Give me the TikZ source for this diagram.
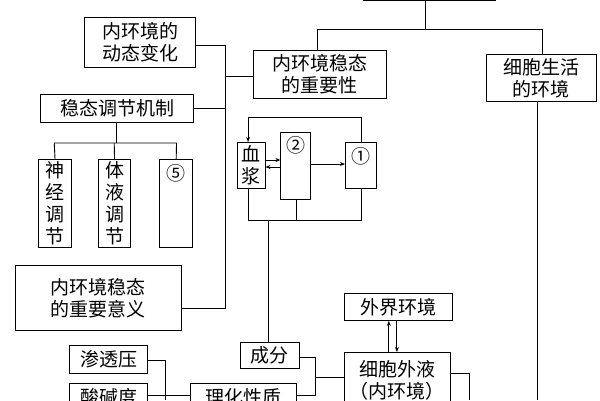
\documentclass[tikz,border=0pt]{standalone}
\usepackage{fontspec}
\setmainfont{Noto Sans CJK SC}
\usetikzlibrary{arrows.meta}
\tikzset{
  box/.style={draw, line width=0.9pt, inner sep=0pt, align=center,
    font=\fontsize{19}{22}\selectfont},
  wire/.style={line width=0.9pt},
  tip/.style={wire, -{Stealth[length=5pt,width=4pt]}}
}
\begin{document}
\begin{tikzpicture}[x=1.1538pt, y=-1pt]
        \useasboundingbox (0,0) rectangle (520,400);

        % top part
        \draw[wire] (369,0) -- (369,29);
        \draw[wire] (275,50) -- (275,29) -- (470,29) -- (470,54);
        \node[box, anchor=north west, minimum width=111pt, minimum height=50pt] (dyn) at (73,17) {内环境的\\动态变化};
        \node[box, anchor=north west, minimum width=133pt, minimum height=48pt] (imp) at (219,50) {内环境稳态\\的重要性};
        \node[box, anchor=north west, minimum width=110pt, minimum height=47pt] (env) at (421,54) {细胞生活\\的环境};
        \node[box, anchor=north west, minimum width=153pt, minimum height=28pt] (mech) at (35,94) {稳态调节机制};
        \node[box, anchor=north west, minimum width=166pt, minimum height=65pt] (mean) at (13,265) {内环境稳态\\的重要意义};

        % left bus
        \coordinate (bt) at (195,45);
        \coordinate (bb) at (195,308);
        \draw[wire] (dyn.east |- bt) -- (bt) -- (bb) -- (mean.east |- bb);
        \draw[wire] (195,76) -- (imp.west |- 0,76);
        \draw[wire] (mech.east |- 0,108) -- (195,108);

        % regulation
        \node[box, anchor=north west, minimum width=33pt, minimum height=88pt] (nerve) at (33,159) {神\\经\\调\\节};
        \node[box, anchor=north west, minimum width=32pt, minimum height=88pt] (fluid) at (85,159) {体\\液\\调\\节};
        \node[box, anchor=north west, minimum width=33pt, minimum height=88pt] (five) at (138,159) {};
        \node[font=\fontsize{19}{22}\selectfont] (fivelbl) at (five.north) [yshift=-14pt] {⑤};
        \draw[wire] (101,122) -- (101,143);
        \draw[wire] (nerve.north) -- (47,143) -- (153,143) -- (five.north);
        \draw[wire] (fluid.north) -- (99,143);

        % fluids
        \node[box, anchor=north west, minimum width=28pt, minimum height=46pt] (plasma) at (205,142) {血\\浆};
        \node[box, anchor=north west, minimum width=30pt, minimum height=67pt] (two) at (243,132) {};
        \node[font=\fontsize{19}{22}\selectfont] (twolbl) at (two.north) [yshift=-13pt] {②};
        \node[box, anchor=north west, minimum width=31pt, minimum height=46pt] (one) at (299,142) {};
        \node[font=\fontsize{19}{22}\selectfont] (onelbl) at (one.north) [yshift=-14pt] {①};
        \draw[tip] (313,142) -- (313,117) -- (215,117) -- (215,142);
        \draw[tip] (two.east |- 0,164) -- (one.west |- 0,164);
        \draw[tip] (plasma.east |- 0,160) -- (two.west |- 0,160);
        \draw[tip] (two.west |- 0,167) -- (plasma.east |- 0,167);
        \draw[wire] (215,188) -- (215,220) -- (313,220) -- (313,188);
        \draw[wire] (257,199) -- (257,220);

        % bottom part
        \node[box, anchor=north west, minimum width=59pt, minimum height=26pt] (comp) at (208,342) {成分};
        \node[box, anchor=north west, minimum width=108pt, minimum height=27pt] (outer) at (298,293) {外界环境};
        \node[box, anchor=north west, minimum width=106pt, minimum height=56pt] (ecf) at (298,352) {细胞外液\\（内环境）};
        \node[box, anchor=north west, minimum width=78pt, minimum height=28pt] (osm) at (60,345) {渗透压};
        \node[box, anchor=north west, minimum width=78pt, minimum height=28pt] (ph) at (60,383) {酸碱度};
        \node[box, anchor=north west, minimum width=106pt, minimum height=28pt] (prop) at (165,383) {理化性质};
        \draw[wire] (233,220) -- (comp.north -| 233,0);
        \draw[tip] (ecf.north -| 337,0) -- (outer.south -| 337,0);
        \draw[tip] (outer.south -| 344,0) -- (ecf.north -| 344,0);
        \draw[wire] (comp.east |- 0,357) -- (273,357) -- (273,395) -- (prop.east |- 0,395);
        \draw[wire] (273,377) -- (ecf.west |- 0,377);
        \draw[wire] (ecf.east |- 0,373) -- (407,373) -- (407,400);
        \draw[wire] (env.south -| 466,0) -- (466,400);
        \draw[wire] (osm.east |- 0,360) -- (143,360) -- (143,400);
        \draw[wire] (ph.east |- 0,395) -- (prop.west |- 0,395);
        % top box edge
        \draw[wire] (315,0.5) -- (430,0.5);
\end{tikzpicture}
\end{document}
